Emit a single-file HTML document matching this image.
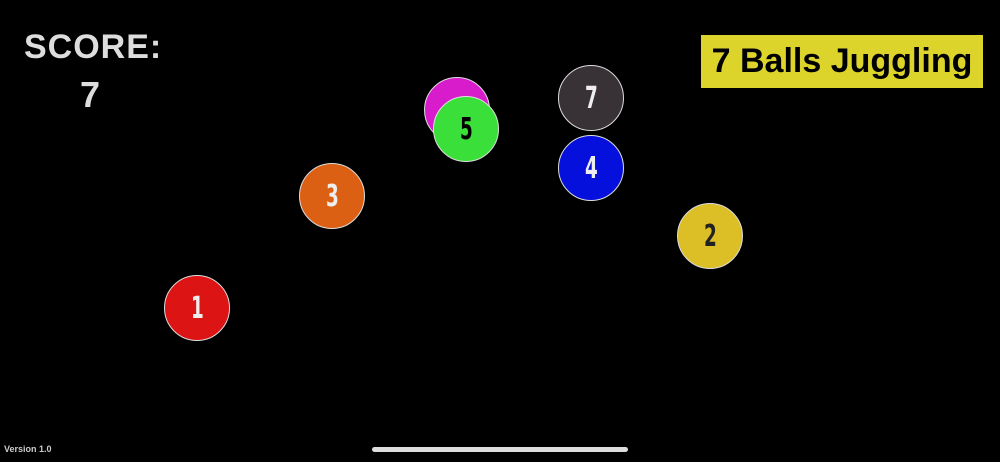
<!DOCTYPE html>
<html><head><style>
body{margin:0;width:1000px;height:462px;background:#000;position:relative;overflow:hidden;font-family:"Liberation Sans",sans-serif}
.b{position:absolute;width:66px;height:66px;border-radius:50%;border:1.5px solid #ddd;box-sizing:border-box;display:flex;align-items:center;justify-content:center;font-family:"DejaVu Sans Condensed","Liberation Sans Narrow",sans-serif;font-weight:bold;font-size:30px}
.b span{display:inline-block;transform:scaleX(0.68)}
</style></head><body>
<div style="position:absolute;left:24px;top:28px;color:#ddd;font-size:34px;font-weight:bold;letter-spacing:1px">SCORE:</div>
<div style="position:absolute;left:80px;top:74px;color:#ddd;font-size:36px;font-weight:bold">7</div>
<div style="position:absolute;left:701px;top:35px;width:282px;height:53px;background:#dcd32b;color:#000;font-size:34px;font-weight:bold;text-align:center;line-height:53px">7 Balls Juggling</div>
<div class="b" style="left:164px;top:275px;background:#dd1414;color:#eee"><span>1</span></div>
<div class="b" style="left:299px;top:163px;background:#dc6014;color:#eee"><span>3</span></div>
<div class="b" style="left:424px;top:77px;background:#d81ccc"></div>
<div class="b" style="left:433px;top:96px;background:#3adf3a;color:#000"><span>5</span></div>
<div class="b" style="left:558px;top:65px;background:#383236;color:#eee"><span>7</span></div>
<div class="b" style="left:558px;top:135px;background:#0610dc;color:#eee"><span>4</span></div>
<div class="b" style="left:677px;top:203px;background:#dcbe26;color:#222"><span>2</span></div>
<div style="position:absolute;left:4px;top:444px;color:#ccc;font-size:9px;font-weight:bold">Version 1.0</div>
<div style="position:absolute;left:372px;top:447px;width:256px;height:5px;border-radius:3px;background:#ddd"></div>
</body></html>
